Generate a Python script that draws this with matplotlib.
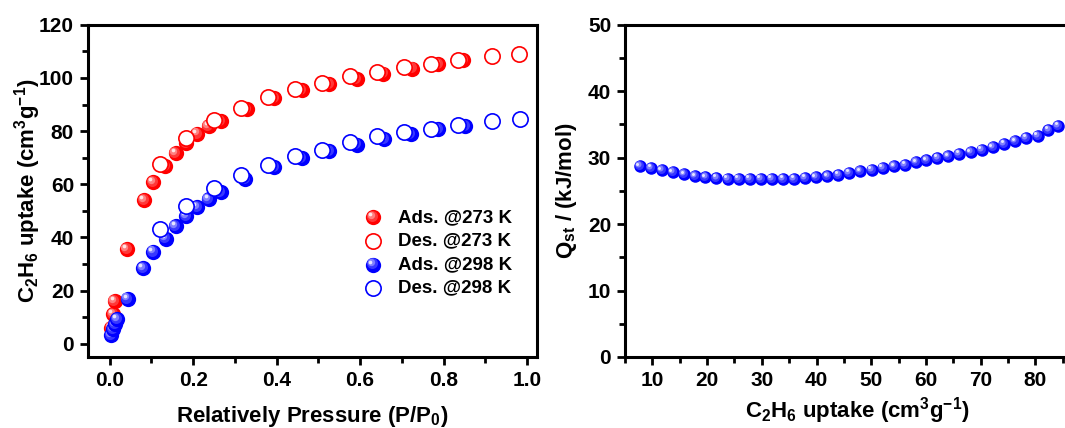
import matplotlib
matplotlib.use("Agg")
import matplotlib.pyplot as plt
import matplotlib.transforms as mtransforms
from matplotlib.colors import to_rgb
import numpy as np

plt.rcParams['font.family'] = ['Liberation Sans', 'DejaVu Sans']
plt.rcParams['font.weight'] = 'bold'
plt.rcParams['mathtext.default'] = 'regular'

# ---- isotherms (P/P0, cm3/g)
ads273_p = [0.003, 0.008, 0.012, 0.041, 0.083, 0.105, 0.132, 0.158, 0.183, 0.210,
            0.237, 0.266, 0.328, 0.394, 0.460, 0.526, 0.592, 0.655, 0.724, 0.787, 0.847]
ads273_q = [6.0, 11.0, 16.0, 35.7, 53.9, 60.8, 66.8, 71.8, 75.5, 79.0,
            81.8, 83.7, 88.3, 92.5, 95.3, 97.7, 99.6, 101.6, 103.5, 105.3, 106.6]
des273_p = [0.982, 0.917, 0.835, 0.769, 0.705, 0.641, 0.575, 0.509, 0.443, 0.380,
            0.314, 0.249, 0.183, 0.121]
des273_q = [109.0, 108.1, 106.6, 105.3, 104.0, 102.1, 100.6, 98.1, 95.8, 92.8,
            88.7, 84.0, 77.4, 67.6]
ads298_p = [0.004, 0.008, 0.013, 0.018, 0.043, 0.080, 0.105, 0.134, 0.158, 0.183,
            0.210, 0.237, 0.266, 0.325, 0.394, 0.460, 0.526, 0.592, 0.658, 0.721,
            0.787, 0.851]
ads298_q = [3.1, 5.4, 7.3, 9.1, 16.9, 28.4, 34.6, 39.5, 44.2, 48.0,
            51.5, 54.5, 57.0, 62.0, 66.4, 69.9, 72.4, 74.9, 77.0, 79.0,
            80.8, 82.0]
des298_p = [0.984, 0.917, 0.835, 0.769, 0.705, 0.641, 0.575, 0.509, 0.443, 0.380,
            0.314, 0.249, 0.183, 0.121]
des298_q = [84.7, 83.7, 82.3, 80.9, 79.5, 78.0, 75.8, 73.0, 70.5, 67.1,
            63.3, 58.4, 51.7, 43.0]

# ---- isosteric heat
qst_n = [7.7, 9.75, 11.7, 13.7, 15.8, 17.8, 19.7, 21.7, 23.8, 25.8, 27.8, 29.8, 31.8,
         33.9, 35.9, 37.9, 39.9, 42.0, 44.0, 46.0, 48.0, 50.1, 52.1, 54.2, 56.2, 58.2,
         60.1, 62.1, 64.1, 66.1, 68.2, 70.2, 72.2, 74.3, 76.3, 78.3, 80.4, 82.4, 84.2]
qst_v = [28.7, 28.5, 28.1, 27.8, 27.5, 27.2, 27.05, 26.95, 26.85, 26.8, 26.8, 26.8, 26.8,
         26.85, 26.85, 26.95, 27.05, 27.2, 27.45, 27.7, 27.95, 28.2, 28.45, 28.7, 28.95, 29.3,
         29.6, 29.96, 30.2, 30.6, 30.8, 31.2, 31.6, 32.1, 32.5, 33.0, 33.3, 34.2, 34.8]

RED = '#ff0000'
BLUE = '#0000ff'

fig = plt.figure(figsize=(10.65, 4.28), dpi=100)


def mix(c, f):
    r = np.array(to_rgb(c))
    return tuple(r + (1 - r) * f)


def sphere(ax, x, y, color, d, trans=None):
    # shaded ball: base disc plus lighter discs shifted to the upper left
    if trans is None:
        trans = ax.transData
    layers = [(1.0, 0.0, 0.0), (0.72, 0.22, 0.08), (0.48, 0.5, 0.15), (0.24, 0.9, 0.2)]
    for xi, yi in zip(x, y):
        for sz, f, off in layers:
            tr = mtransforms.offset_copy(trans, fig=fig, x=-off * d, y=off * d, units='points')
            ax.plot([xi], [yi], 'o', ms=d * sz, mfc=mix(color, f), mec='none',
                    transform=tr, clip_on=False)


def hollow(ax, x, y, color, d, trans=None):
    if trans is None:
        trans = ax.transData
    ax.plot(x, y, 'o', ms=d, mfc='white', mec=color, mew=1.2, ls='none',
            transform=trans, clip_on=False)


def style(ax):
    for s in ax.spines.values():
        s.set_linewidth(2.2)
    ax.tick_params(which='both', direction='out', width=2, labelsize=15, top=False, right=False)
    ax.tick_params(which='major', length=6, pad=4)
    ax.tick_params(which='minor', length=4)
    for t in ax.get_xticklabels() + ax.get_yticklabels():
        t.set_fontweight('bold')


# ---------- left panel
ax1 = fig.add_axes([0.0826, 0.166, 0.4216, 0.776])
MS = 11
sphere(ax1, ads273_p, ads273_q, RED, MS)
sphere(ax1, ads298_p, ads298_q, BLUE, MS)
hollow(ax1, des273_p, des273_q, RED, MS)
hollow(ax1, des298_p, des298_q, BLUE, MS)
ax1.set_xlim(-0.052, 1.024)
ax1.set_ylim(-5, 120)
ax1.set_xticks(np.arange(0, 1.01, 0.2))
ax1.set_xticks(np.arange(0.1, 1.0, 0.2), minor=True)
ax1.set_yticks(np.arange(0, 121, 20))
ax1.set_yticks(np.arange(10, 120, 20), minor=True)
ax1.set_xticklabels(['0.0', '0.2', '0.4', '0.6', '0.8', '1.0'])
style(ax1)
ax1.set_xlabel('Relatively Pressure (P/P$_0$)', fontsize=16, fontweight='bold', labelpad=10)
ax1.set_ylabel('C$_2$H$_6$ uptake (cm$^3$g$^{-1}$)', fontsize=16, fontweight='bold', labelpad=-3)

# legend drawn by hand so the balls keep their shading
labels = ['Ads. @273 K', 'Des. @273 K', 'Ads. @298 K', 'Des. @298 K']
kinds = [('s', RED), ('h', RED), ('s', BLUE), ('h', BLUE)]
for i, (lab, (kind, col)) in enumerate(zip(labels, kinds)):
    yy = 0.42 - i * 0.071
    if kind == 's':
        sphere(ax1, [0.635], [yy], col, MS, trans=ax1.transAxes)
    else:
        hollow(ax1, [0.635], [yy], col, MS, trans=ax1.transAxes)
    ax1.text(0.69, yy, lab, transform=ax1.transAxes, fontsize=13.5, fontweight='bold',
             va='center', ha='left')

# ---------- right panel
ax2 = fig.add_axes([0.5869, 0.166, 0.4366, 0.776])
sphere(ax2, qst_n, qst_v, BLUE, 9)
ax2.set_xlim(5, 90)
ax2.set_ylim(0, 50)
ax2.set_xticks(np.arange(10, 81, 10))
ax2.set_xticks(np.arange(5, 90, 5), minor=True)
ax2.set_yticks(np.arange(0, 51, 10))
ax2.set_yticks(np.arange(5, 50, 10), minor=True)
style(ax2)
ax2.set_xlabel('C$_2$H$_6$ uptake (cm$^3$g$^{-1}$)', fontsize=16, fontweight='bold', labelpad=4)
ax2.set_ylabel('Q$_{st}$ / (kJ/mol)', fontsize=16, fontweight='bold', labelpad=6)

fig.savefig('out.png', dpi=100)
